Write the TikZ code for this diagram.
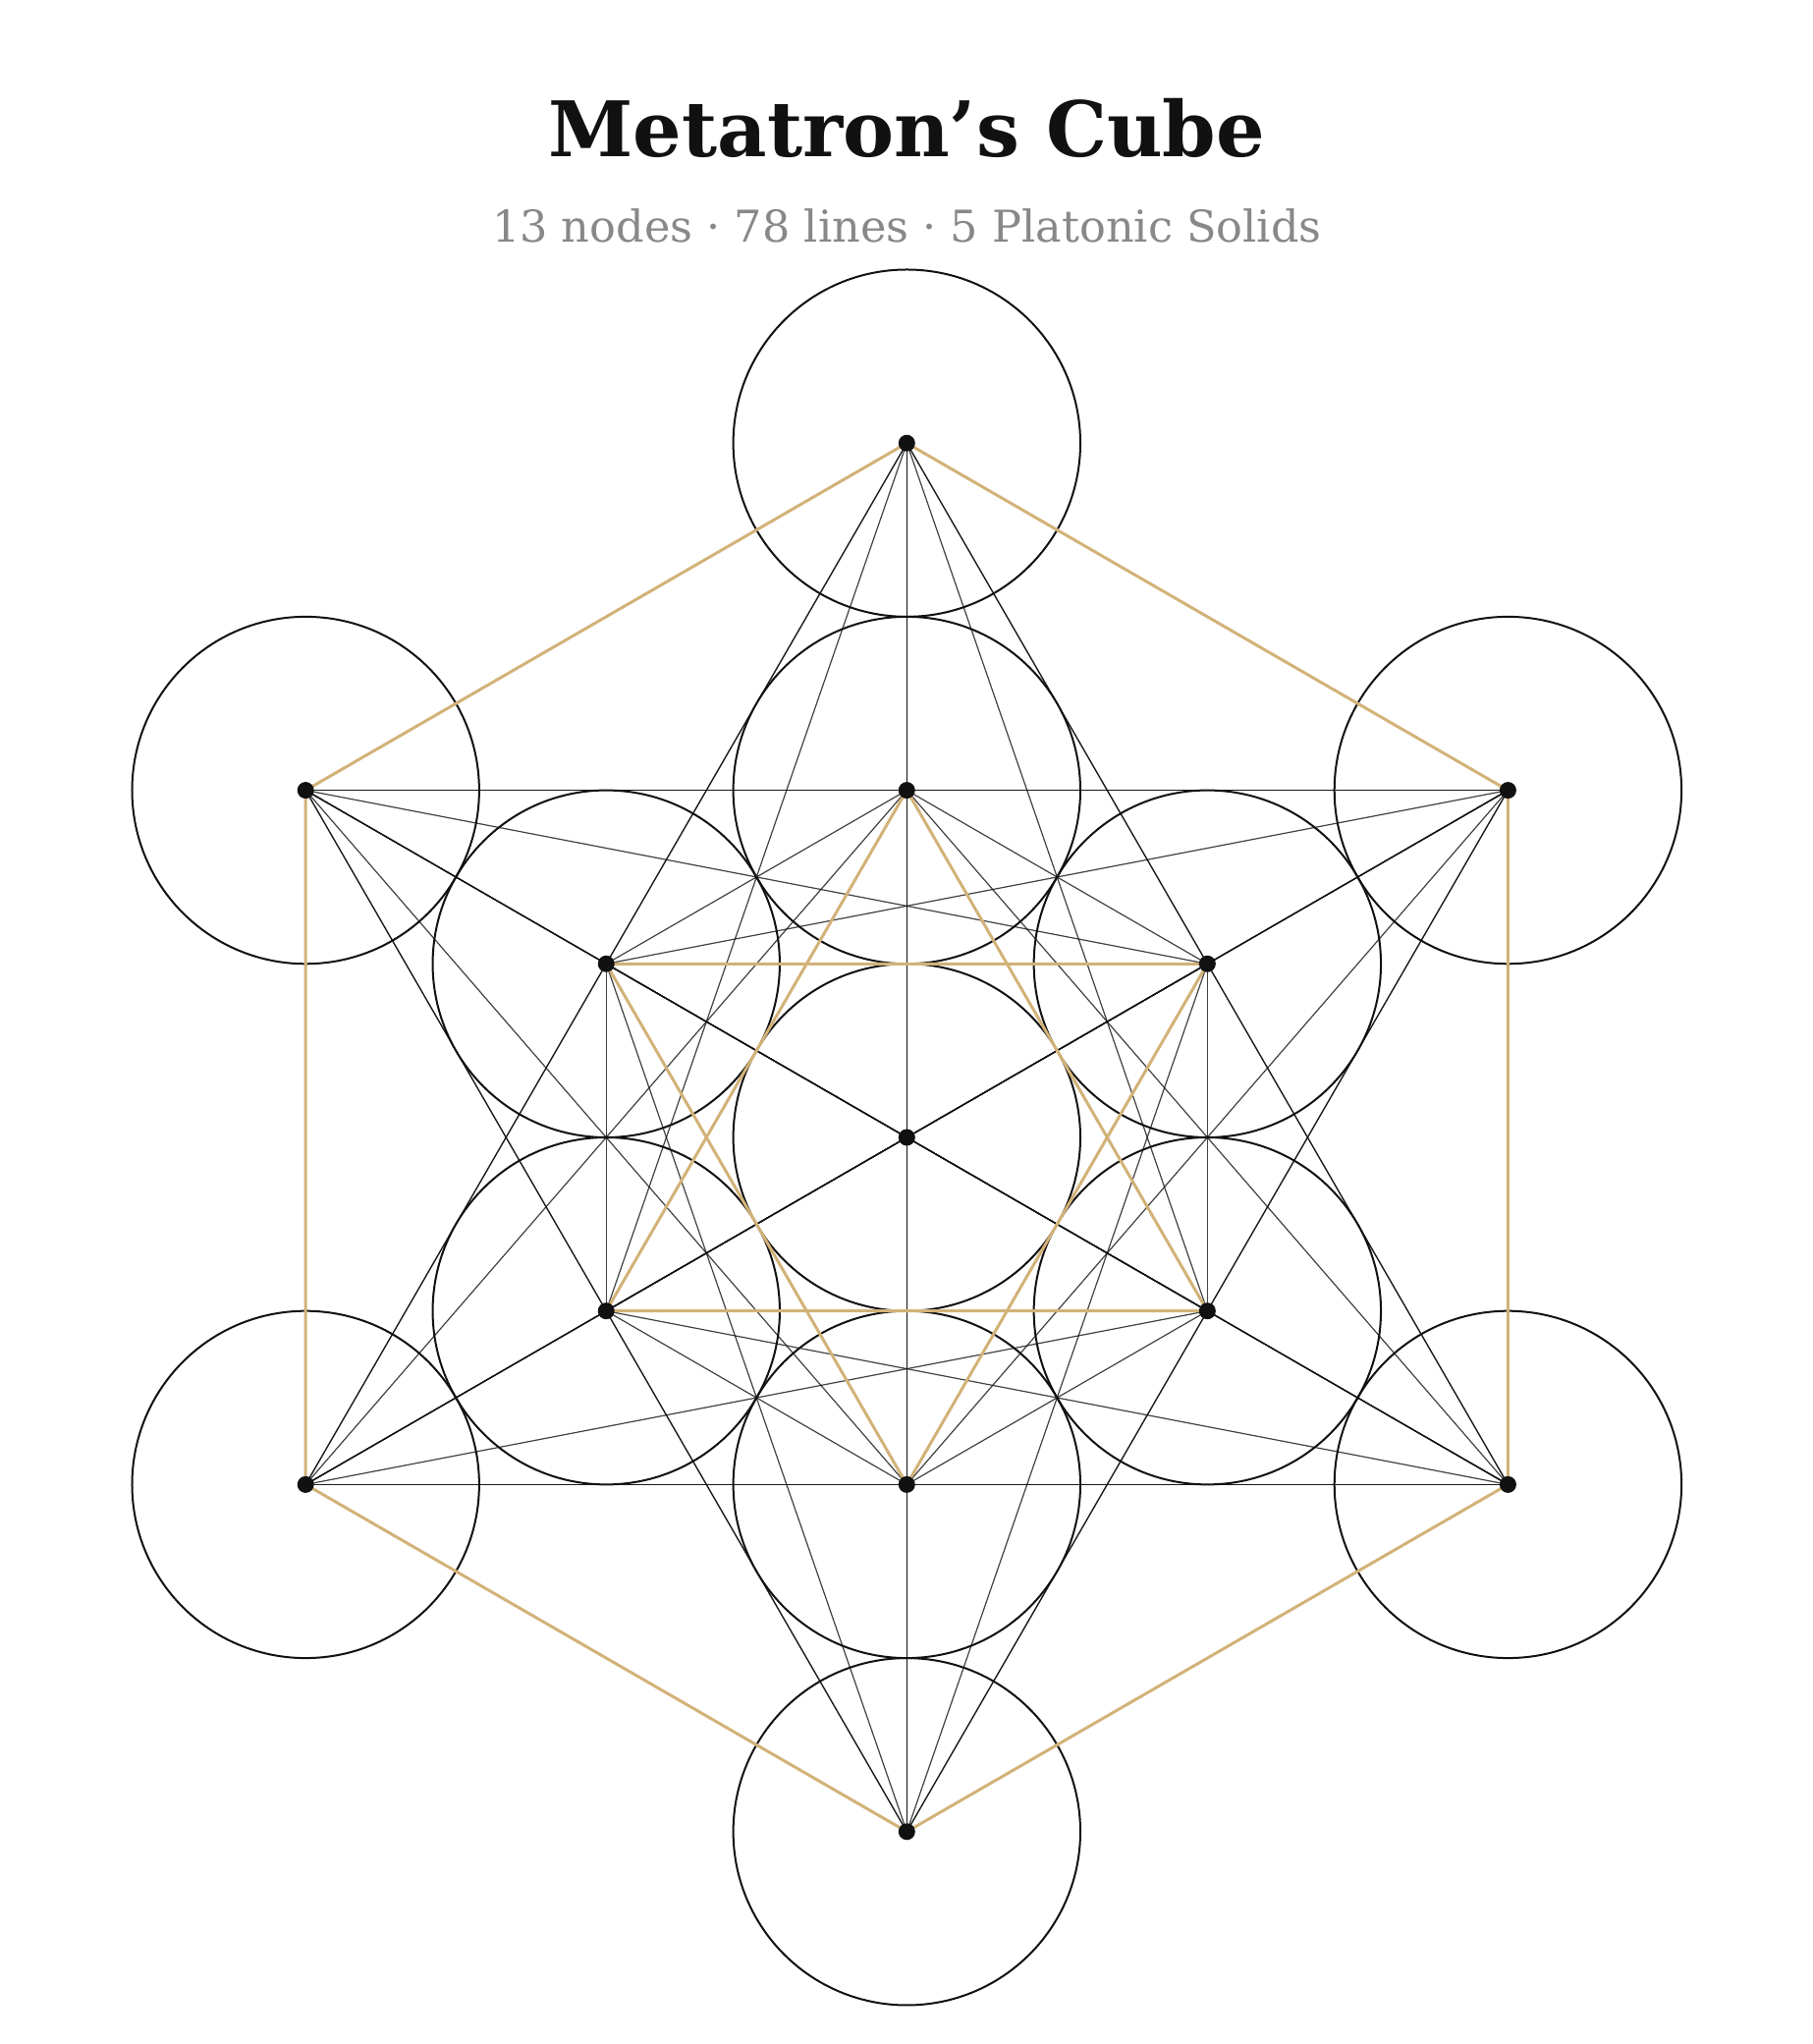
\documentclass[tikz,border=0pt]{standalone}
\usepackage{fontspec}
\setmainfont{DejaVu Serif}
\usetikzlibrary{calc}
\definecolor{ink}{HTML}{111111}
\definecolor{gold}{RGB}{210,178,120}
\definecolor{subgrey}{HTML}{888888}
\begin{document}
\begin{tikzpicture}[x=1pt,y=1pt,
  ring/.style={draw=ink,line width=2pt},
  web/.style={draw=ink,line width=1.2pt,draw opacity=0.8},
  goldline/.style={draw=gold,line width=3pt,line cap=round},
  dot/.style={circle,fill=ink,inner sep=0pt,minimum size=17pt},
  title/.style={font=\bfseries\fontsize{78}{94}\selectfont,text=ink,anchor=base},
  subtitle/.style={font=\fontsize{44.6}{54}\selectfont,text=subgrey,anchor=base}]
\useasboundingbox (0,0) rectangle (1846,2081);
\def\R{176.7}
% node positions
\coordinate (p1) at (923.3,923);
\foreach \k in {0,...,5}{
  \pgfmathtruncatemacro\n{\k+2}
  \pgfmathtruncatemacro\m{\k+8}
  \coordinate (p\n) at ($(p1)+({90+60*\k}:{2*\R})$);
  \coordinate (p\m) at ($(p1)+({90+60*\k}:{4*\R})$);
}
% title
\node[title] (ttl) at (923.3,1921.7) {Metatron’s Cube};
\node[subtitle] (sub) at (923.3,1834.3) {13 nodes · 78 lines · 5 Platonic Solids};
% circles
\foreach \i in {1,...,13} \draw[ring] (p\i) circle[radius=\R];
% all 78 lines
\foreach \i in {1,...,12}{
  \pgfmathtruncatemacro\s{\i+1}
  \foreach \j in {\s,...,13} \draw[web] (p\i) -- (p\j);
}
% gold: outer hexagon and star
\draw[goldline] (p8) -- (p9) -- (p10) -- (p11) -- (p12) -- (p13) -- cycle;
\draw[goldline] (p2) -- (p4) -- (p6) -- cycle;
\draw[goldline] (p3) -- (p5) -- (p7) -- cycle;
% dots
\foreach \i in {1,...,13} \node[dot] (d\i) at (p\i) {};
\end{tikzpicture}
\end{document}
